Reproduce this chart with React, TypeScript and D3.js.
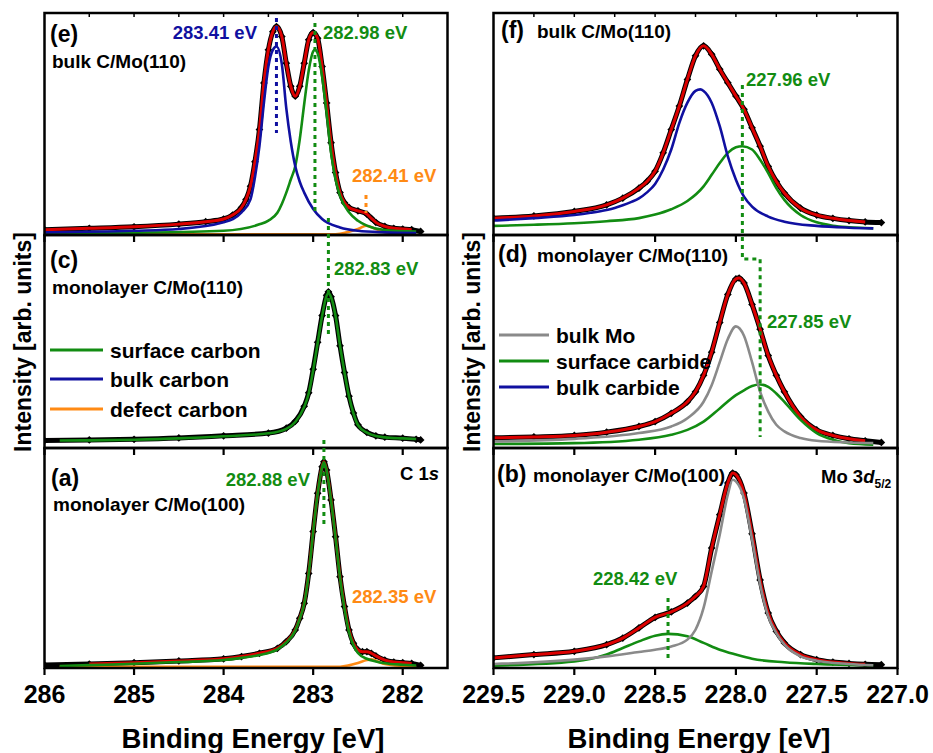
import React, { useEffect, useRef } from "react";
import * as d3 from "d3";

type Pt = [number, number];

// ---------------- axis ticks ----------------
const leftTicks = [286, 285, 284, 283, 282];
const leftTopTicks = [285.5, 285, 284.5, 284, 283.5, 283, 282.5, 282];
const rightTicks = [229.5, 229.0, 228.5, 228.0, 227.5, 227.0];
const rightTopTicks = [229.25, 229.0, 228.75, 228.5, 228.25, 228.0, 227.75, 227.5, 227.25];

// ---------------- (e) bulk C/Mo(110), C 1s ----------------
const eData: Pt[] = [[286,2.4],[285.5,3.0],[285,3.7],[284.5,4.9],[284.2,6.0],[284,7.2],[283.9,9.0],[283.8,12.4],[283.75,16],[283.7,22],[283.65,33],[283.6,47.5],[283.55,68.5],[283.5,83.4],[283.45,91.6],[283.41,93.9],[283.35,89.4],[283.3,77.4],[283.25,67],[283.2,62.5],[283.15,67],[283.1,77.4],[283.05,87.9],[283.0,91.2],[282.95,88.6],[282.9,75.9],[282.85,59.5],[282.8,41.6],[282.75,28.1],[282.7,19.1],[282.65,14.5],[282.6,12.4],[282.5,10.9],[282.4,9.4],[282.35,7.5],[282.3,5.7],[282.2,3.9],[282.1,3.0],[282.0,2.7],[281.9,2.4],[281.8,1.6]];
const eBulk: Pt[] = [[286,1.2],[285,1.9],[284.5,2.7],[284,5.7],[283.8,10.2],[283.7,16.1],[283.65,26],[283.6,40],[283.55,59.5],[283.5,75.9],[283.45,83.4],[283.41,84.9],[283.35,77],[283.3,57],[283.25,42],[283.2,31],[283.15,24],[283.1,19.1],[283.0,11.7],[282.9,7.2],[282.7,3.4],[282.5,1.9],[282.2,1.2],[281.85,0.9]];
const eSurface: Pt[] = [[286,0.7],[285,1.0],[284,1.9],[283.6,4.8],[283.5,6.5],[283.4,10],[283.35,14],[283.3,19.1],[283.25,25],[283.2,31],[283.15,43],[283.1,59],[283.05,74],[283.0,82.7],[282.98,83.4],[282.95,81.8],[282.9,71.4],[282.85,55],[282.8,37],[282.75,25.1],[282.7,17.6],[282.6,10.2],[282.5,6.4],[282.4,4.2],[282.2,2.2],[281.85,1.5]];
const eDefect: Pt[] = [[286,0.3],[282.8,0.3],[282.7,0.6],[282.6,1.5],[282.5,2.7],[282.41,4.2],[282.3,2.7],[282.2,1.2],[282.0,0.45],[281.85,0.3]];

// ---------------- (c) monolayer C/Mo(110), C 1s ----------------
const cData: Pt[] = [[286,3.5],[285.5,3.8],[285,4.1],[284.5,4.7],[284,5.7],[283.5,7.0],[283.3,9.3],[283.2,12.5],[283.1,19.6],[283.05,25.9],[283.0,37],[282.95,49.6],[282.9,62.2],[282.85,71.7],[282.83,73.3],[282.8,71],[282.75,62.2],[282.7,48],[282.65,35.4],[282.6,24.3],[282.55,16.4],[282.5,10.9],[282.4,7.3],[282.3,5.7],[282.2,5.1],[282.0,4.6],[281.85,4.1],[281.8,3.8]];
const cSurface: Pt[] = [[285.83,3.5],[285.5,3.6],[285,3.9],[284.5,4.5],[284,5.5],[283.5,6.9],[283.3,9.0],[283.2,12.2],[283.1,19.3],[283.05,25.6],[283.0,36.5],[282.95,49.2],[282.9,62],[282.85,71.5],[282.83,72.8],[282.8,70.8],[282.75,62],[282.7,48],[282.65,35.4],[282.6,24.3],[282.55,16.2],[282.5,10.8],[282.4,7.2],[282.3,5.6],[282.2,5.0],[282.0,4.5],[281.85,4.2]];

// ---------------- (a) monolayer C/Mo(100), C 1s ----------------
const aData: Pt[] = [[286,1.4],[285.5,1.8],[285,2.4],[284.5,3.2],[284,4.2],[283.8,5.2],[283.6,6.7],[283.4,8.9],[283.3,12],[283.2,17.3],[283.15,22.6],[283.1,29.4],[283.05,43],[283.0,62],[282.95,79.4],[282.9,91.5],[282.88,93.8],[282.85,90],[282.8,76.4],[282.75,59.7],[282.7,41.5],[282.65,27.9],[282.6,17.3],[282.55,11.2],[282.5,8.2],[282.45,7.4],[282.4,7.4],[282.35,6.7],[282.3,5.5],[282.2,3.6],[282.1,2.7],[282.0,2.4],[281.9,2.1],[281.8,1.2]];
const aSurface: Pt[] = [[285.83,0.9],[285.5,1.3],[285,1.9],[284.5,2.7],[284,3.6],[283.8,4.6],[283.6,5.9],[283.4,8.5],[283.3,11.6],[283.2,17],[283.15,22.4],[283.1,29.2],[283.05,42.8],[283.0,61.8],[282.95,79.2],[282.9,91.3],[282.88,93.5],[282.85,89.8],[282.8,76],[282.75,59.2],[282.7,41],[282.65,27],[282.6,16.4],[282.55,10.4],[282.5,6.8],[282.4,4.2],[282.3,3.0],[282.2,2.2],[282.0,1.5],[281.85,1.1]];
const aDefect: Pt[] = [[285.83,0.6],[282.7,0.6],[282.6,1.2],[282.5,2.3],[282.4,3.6],[282.35,3.9],[282.3,3.3],[282.2,1.8],[282.0,0.9],[281.85,0.6]];

// ---------------- (f) bulk C/Mo(110), Mo 3d5/2 ----------------
const fData: Pt[] = [[229.5,7.6],[229.25,8.6],[229.0,10.6],[228.8,13.6],[228.7,16.6],[228.6,21.1],[228.55,24.1],[228.5,28.7],[228.45,37],[228.4,47.5],[228.35,58.1],[228.3,70.1],[228.25,80.7],[228.2,85.2],[228.15,81.4],[228.1,74.7],[228.05,68.6],[228.0,62.6],[227.95,56.6],[227.9,48.3],[227.85,40],[227.8,30.9],[227.75,24.1],[227.7,18.9],[227.6,12.1],[227.5,9.0],[227.4,7.5],[227.3,6.5],[227.2,5.9],[227.1,5.6]];
const fBulk: Pt[] = [[229.5,6.5],[229.25,7.6],[229.0,9.0],[228.9,10.0],[228.8,11.3],[228.75,12.2],[228.7,13.4],[228.65,14.8],[228.6,16.5],[228.55,19.2],[228.5,23],[228.45,29.5],[228.4,38.5],[228.35,50.5],[228.3,59.6],[228.25,64.9],[228.22,65.6],[228.2,64.9],[228.15,59.6],[228.1,49],[228.05,35.4],[228.0,24.9],[227.95,17.3],[227.9,12.8],[227.8,8.3],[227.7,6.0],[227.5,4.1],[227.3,3.3],[227.15,3.0]];
const fSurface: Pt[] = [[229.5,4.1],[229.25,4.6],[229.0,5.3],[228.8,6.2],[228.6,7.6],[228.5,9.2],[228.4,11.6],[228.3,15.3],[228.2,21.9],[228.15,27.1],[228.1,32.4],[228.05,37],[228.0,39.5],[227.96,40],[227.9,38.5],[227.85,33.9],[227.8,27.9],[227.75,21.1],[227.7,15.8],[227.6,9.0],[227.5,5.7],[227.4,4.2],[227.3,3.5],[227.15,3.0]];

// ---------------- (d) monolayer C/Mo(110), Mo 3d5/2 ----------------
const dData: Pt[] = [[229.5,4.8],[229.25,5.2],[229.0,5.9],[228.8,7.4],[228.6,10.1],[228.5,12.4],[228.4,16.3],[228.3,21.7],[228.25,26.4],[228.2,34.1],[228.15,45],[228.1,58.9],[228.05,72.1],[228.0,79.4],[227.98,79.8],[227.95,77.5],[227.9,67.4],[227.85,55.8],[227.8,43.4],[227.75,34.1],[227.7,26.4],[227.6,14.7],[227.5,8.5],[227.4,5.9],[227.3,4.3],[227.2,3.4],[227.1,2.6]];
const dBulkMo: Pt[] = [[229.5,3.1],[229.0,4.3],[228.6,7.0],[228.4,10.1],[228.3,14],[228.2,21.7],[228.15,29.5],[228.1,40.3],[228.05,51.2],[228.0,57.1],[227.95,52.7],[227.9,40.3],[227.85,26.4],[227.8,17.1],[227.75,10.9],[227.7,7.8],[227.6,4.7],[227.5,3.4],[227.3,2.6],[227.15,2.3]];
const dSurface: Pt[] = [[229.5,1.9],[229.0,2.3],[228.6,3.9],[228.4,6.2],[228.3,8.5],[228.2,12.4],[228.1,18.6],[228.0,24.8],[227.95,27.1],[227.9,29.1],[227.85,29.8],[227.8,28.7],[227.75,25.6],[227.7,21.7],[227.6,13.2],[227.5,7.0],[227.4,3.9],[227.3,2.3],[227.15,1.6]];

// ---------------- (b) monolayer C/Mo(100), Mo 3d5/2 ----------------
const bData: Pt[] = [[229.5,4.6],[229.25,6.1],[229.0,7.6],[228.8,10.6],[228.7,13.6],[228.6,18.2],[228.5,23],[228.4,25.5],[228.3,29.5],[228.25,32.6],[228.2,37.1],[228.15,54.5],[228.1,69.7],[228.05,84.1],[228.02,88.6],[228.0,87.9],[227.95,79.5],[227.9,61],[227.85,40],[227.8,25],[227.75,16.7],[227.7,11.4],[227.6,6.1],[227.5,3.8],[227.4,2.7],[227.3,2.1],[227.2,1.7],[227.1,1.5]];
const bBulkMo: Pt[] = [[229.5,1.8],[229.0,3.8],[228.8,5.3],[228.6,7.3],[228.5,8.3],[228.4,9.8],[228.3,12.9],[228.25,17.4],[228.2,27.3],[228.15,43.9],[228.1,60.6],[228.05,78.8],[228.02,85.6],[228.0,84.8],[227.95,77],[227.9,58.5],[227.85,38],[227.8,23.5],[227.75,15.9],[227.7,10.6],[227.6,5.3],[227.5,3.3],[227.3,1.8],[227.15,1.2]];
const bSurface: Pt[] = [[229.5,1.1],[229.0,3.0],[228.8,6.1],[228.7,9.1],[228.6,12.1],[228.5,14.7],[228.42,15.5],[228.3,14.4],[228.2,11.4],[228.1,8.3],[228.0,6.1],[227.9,4.2],[227.7,2.6],[227.5,1.8],[227.15,1.2]];

// ---------------- peak markers (energy, from value, to value) ----------------
const peakMarkers = {
  e: [[283.41, 97.7, 45.9], [282.98, 95.5, 9.9], [282.41, 18, 9.9]],
  c: [[282.83, 108, 52.1]],
  a: [[282.88, 103.6, 65]],
  b: [[228.42, 31.8, 3.6]],
};
const dStepMarker: Pt[] = [[227.96, 170.4], [227.96, 88.7], [227.85, 88.7], [227.85, 5.2]];

const leftLegend = ["surface carbon", "bulk carbon", "defect carbon"];
const rightLegend = ["bulk Mo", "surface carbide", "bulk carbide"];

const RED = "#dc0000";
const BLUE = "#1010a0";
const GREEN = "#128c12";
const ORANGE = "#ff8a14";
const GRAY = "#8a8a8a";
const FONT = "'Liberation Sans', Arial, Helvetica, sans-serif";

export default function App() {
  const ref = useRef<SVGSVGElement>(null);

  useEffect(() => {
    const svg = d3.select(ref.current);
    svg.selectAll("*").remove();

    const tops = [13, 235, 448];
    const bottoms = [235, 448, 668];

    const xL = d3.scaleLinear().domain([286, 281.5]).range([44.5, 447.5]);
    const xR = d3.scaleLinear().domain([229.5, 227.0]).range([493.5, 897.5]);
    const yOf = (row: number) => d3.scaleLinear().domain([0, 100]).range([bottoms[row], tops[row]]);

    type Comp = { pts: Pt[]; color: string };
    type Panel = {
      id: string; col: 0 | 1; row: number; data: Pt[]; fit: [number, number] | null; comps: Comp[];
    };
    const panels: Panel[] = [
      { id: "e", col: 0, row: 0, data: eData, fit: [286, 281.85], comps: [{ pts: eDefect, color: ORANGE }, { pts: eSurface, color: GREEN }, { pts: eBulk, color: BLUE }] },
      { id: "c", col: 0, row: 1, data: cData, fit: null, comps: [{ pts: cSurface, color: GREEN }] },
      { id: "a", col: 0, row: 2, data: aData, fit: [285.83, 281.85], comps: [{ pts: aDefect, color: ORANGE }, { pts: aSurface, color: GREEN }] },
      { id: "f", col: 1, row: 0, data: fData, fit: [229.5, 227.15], comps: [{ pts: fSurface, color: GREEN }, { pts: fBulk, color: BLUE }] },
      { id: "d", col: 1, row: 1, data: dData, fit: [229.5, 227.15], comps: [{ pts: dSurface, color: GREEN }, { pts: dBulkMo, color: GRAY }] },
      { id: "b", col: 1, row: 2, data: bData, fit: [229.5, 227.15], comps: [{ pts: bSurface, color: GREEN }, { pts: bBulkMo, color: GRAY }] },
    ];

    const defs = svg.append("defs");
    const diamond = d3.symbol(d3.symbolSquare, 30)();

    panels.forEach((p) => {
      const x = p.col === 0 ? xL : xR;
      const y = yOf(p.row);
      const [x0, x1] = x.range();
      const clipId = `clip-${p.id}`;
      defs.append("clipPath").attr("id", clipId).append("rect")
        .attr("x", x0).attr("y", tops[p.row]).attr("width", x1 - x0).attr("height", bottoms[p.row] - tops[p.row]);
      const g = svg.append("g").attr("clip-path", `url(#${clipId})`);
      const line = d3.line<Pt>().x((d) => x(d[0])).y((d) => y(d[1])).curve(d3.curveMonotoneX);

      // measured data: dense black trace + diamonds
      g.append("path").attr("d", line(p.data)).attr("fill", "none").attr("stroke", "#000").attr("stroke-width", 5);
      g.selectAll("path.pt").data(p.data).join("path").attr("class", "pt")
        .attr("d", diamond).attr("fill", "#000")
        .attr("transform", (d) => `translate(${x(d[0])},${y(d[1])}) rotate(45)`);

      // envelope
      if (p.fit) {
        const [a, b] = p.fit;
        const fitPts = p.data.filter((d) => d[0] <= a + 1e-9 && d[0] >= b - 1e-9);
        g.append("path").attr("d", line(fitPts)).attr("fill", "none").attr("stroke", RED).attr("stroke-width", 3);
      }
      // components
      p.comps.forEach((c) => {
        g.append("path").attr("d", line(c.pts)).attr("fill", "none").attr("stroke", c.color).attr("stroke-width", 2.6);
      });
    });

    // frames and ticks
    panels.forEach((p) => {
      const x = p.col === 0 ? xL : xR;
      const [x0, x1] = x.range();
      svg.append("rect").attr("x", x0).attr("y", tops[p.row]).attr("width", x1 - x0)
        .attr("height", bottoms[p.row] - tops[p.row]).attr("fill", "none").attr("stroke", "#000").attr("stroke-width", 2.5);
      const major = p.col === 0 ? leftTicks : rightTicks;
      svg.append("g").selectAll("line").data(major).join("line")
        .attr("x1", (d) => x(d)).attr("x2", (d) => x(d))
        .attr("y1", bottoms[p.row]).attr("y2", bottoms[p.row] + 7)
        .attr("stroke", "#000").attr("stroke-width", 2.2);
      if (p.row === 0) {
        const top = p.col === 0 ? leftTopTicks : rightTopTicks;
        svg.append("g").selectAll("line").data(top).join("line")
          .attr("x1", (d) => x(d)).attr("x2", (d) => x(d))
          .attr("y1", tops[0]).attr("y2", tops[0] + 4)
          .attr("stroke", "#000").attr("stroke-width", 1.5);
      }
    });

    // tick labels
    const tl = (arr: number[], x: d3.ScaleLinear<number, number>, fmt: (n: number) => string) =>
      svg.append("g").selectAll("text").data(arr).join("text")
        .attr("x", (d) => x(d)).attr("y", 703).attr("text-anchor", "middle")
        .attr("font-family", FONT).attr("font-weight", "bold").attr("font-size", 25)
        .text((d) => fmt(d));
    tl(leftTicks, xL, d3.format("d"));
    tl(rightTicks, xR, d3.format(".1f"));

    const text = (x: number, y: number, s: string, size: number, color = "#000", anchor = "start") =>
      svg.append("text").attr("x", x).attr("y", y).attr("font-family", FONT).attr("font-weight", "bold")
        .attr("font-size", size).attr("fill", color).attr("text-anchor", anchor).text(s);

    // axis titles
    text(253, 748, "Binding Energy [eV]", 27.5, "#000", "middle");
    text(699, 748, "Binding Energy [eV]", 27.5, "#000", "middle");
    [31, 480].forEach((xx) => {
      svg.append("text").attr("transform", `translate(${xx},342) rotate(-90)`).attr("text-anchor", "middle")
        .attr("font-family", FONT).attr("font-weight", "bold").attr("font-size", 23).text("Intensity [arb. units]");
    });

    // peak marker dotted lines
    const dotted = (pts: Pt[], x: d3.ScaleLinear<number, number>, row: number, color: string) => {
      const y = yOf(row);
      svg.append("path").attr("d", d3.line<Pt>().x((d) => x(d[0])).y((d) => y(d[1]))(pts))
        .attr("fill", "none").attr("stroke", color).attr("stroke-width", 3).attr("stroke-dasharray", "4,4");
    };
    const eCols = [BLUE, GREEN, ORANGE];
    peakMarkers.e.forEach((m, i) => dotted([[m[0], m[1]], [m[0], m[2]]], xL, 0, eCols[i]));
    peakMarkers.c.forEach((m) => dotted([[m[0], m[1]], [m[0], m[2]]], xL, 1, GREEN));
    peakMarkers.a.forEach((m) => dotted([[m[0], m[1]], [m[0], m[2]]], xL, 2, GREEN));
    peakMarkers.b.forEach((m) => dotted([[m[0], m[1]], [m[0], m[2]]], xR, 2, GREEN));
    dotted(dStepMarker, xR, 1, GREEN);

    // panel labels (left)
    text(50, 42, "(e)", 23);
    text(52, 68, "bulk C/Mo(110)", 19);
    text(257, 39, "283.41 eV", 18.5, BLUE, "end");
    text(323, 39, "282.98 eV", 18.5, GREEN);
    text(352, 182, "282.41 eV", 18.5, ORANGE);
    text(50, 268, "(c)", 23);
    text(52, 294, "monolayer C/Mo(110)", 19);
    text(334, 275, "282.83 eV", 18.5, GREEN);
    text(51, 486, "(a)", 23);
    text(53, 511, "monolayer C/Mo(100)", 19);
    text(310, 486, "282.88 eV", 18.5, GREEN, "end");
    text(352, 603, "282.35 eV", 18.5, ORANGE);
    const c1s = text(439, 480, "C 1", 18.5, "#000", "end");
    c1s.append("tspan").attr("font-style", "italic").text("s");

    // panel labels (right)
    text(501, 38, "(f)", 23);
    text(537, 38, "bulk C/Mo(110)", 19);
    text(746, 86, "227.96 eV", 18.5, GREEN);
    text(498, 262, "(d)", 23);
    text(537, 262, "monolayer C/Mo(110)", 19);
    text(767, 328, "227.85 eV", 18.5, GREEN);
    text(497, 482, "(b)", 23);
    text(533, 482, "monolayer C/Mo(100)", 19);
    text(593, 585, "228.42 eV", 18.5, GREEN);
    const mo = text(821, 483, "Mo 3", 18.5);
    mo.append("tspan").attr("font-style", "italic").text("d");
    mo.append("tspan").attr("font-size", 12).attr("dy", 5).text("5/2");

    // legends
    const legend = (labels: string[], colors: string[], x0: number, x1: number, ys: number[]) => {
      labels.forEach((l, i) => {
        svg.append("line").attr("x1", x0).attr("x2", x1).attr("y1", ys[i]).attr("y2", ys[i])
          .attr("stroke", colors[i]).attr("stroke-width", 3);
        text(x1 + 7, ys[i] + 8, l, 21);
      });
    };
    legend(leftLegend, [GREEN, BLUE, ORANGE], 50, 103, [350, 379, 409]);
    legend(rightLegend, [GRAY, GREEN, BLUE], 499, 549, [335, 361, 387]);
  }, []);

  return (
    <svg
      ref={ref}
      width={933}
      height={753}
      style={{ position: "absolute", left: 0, top: 0, background: "#fff", display: "block" }}
    />
  );
}
